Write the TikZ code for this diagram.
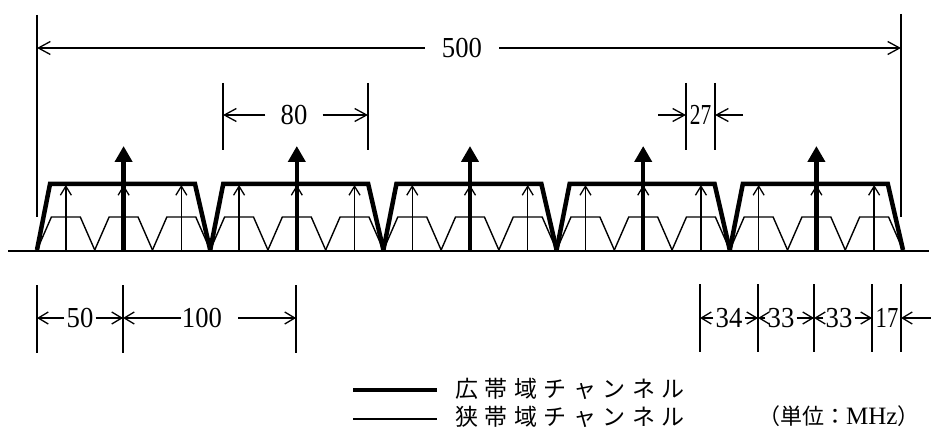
\documentclass[tikz,border=0pt]{standalone}
\usepackage{fontspec}
\setmainfont{Liberation Serif}
\newfontfamily\numfont[FakeStretch=0.92]{Liberation Serif}
\newfontfamily\unitfont{Liberation Serif}
\newfontfamily\cjk{Noto Sans CJK JP}
\usetikzlibrary{arrows.meta}
\begin{document}
\begin{tikzpicture}[x=1pt,y=-1pt,
  wideline/.style={line width=4.5pt},
  thinline/.style={line width=1.4pt},
  extline/.style={line width=1.3pt},
  narrowcarrier/.style={line width=1.3pt,-{Straight Barb[width=11pt,length=9pt]}},
  widecarrier/.style={line width=4.5pt,-{Triangle[width=17pt,length=16pt]}},
  bigdim/.style={line width=1.3pt,-{Straight Barb[width=13pt,length=12pt]}},
  smalldim/.style={line width=1.3pt,-{Straight Barb[width=12pt,length=10pt]}},
  numlabel/.style={font=\numfont\fontsize{29}{31}\selectfont,inner ysep=0pt,inner xsep=2pt},
  cjktext/.style={font=\cjk\fontsize{23}{26}\selectfont,inner sep=0pt,anchor=west},
]
\useasboundingbox (0,0) rectangle (931,430);
\fill[white] (0,0) rectangle (931,430);

% baseline
\coordinate (bl0) at (8,251);
\coordinate (bl1) at (929,251);
\draw[line width=2.5pt] (bl0) -- (bl1);

% channels
\foreach \k in {0,...,4}{
  \pgfmathsetmacro\a{37+173.2*\k}
  \foreach \j in {0,1,2}{
    \pgfmathsetmacro\b{\a+57.733*\j}
    \draw[thinline] (\b,250) -- (\b+14.4,217) -- (\b+43.3,217) -- (\b+57.733,250);
    \draw[narrowcarrier] (\b+28.87,250) -- (\b+28.87,185);
  }
  \draw[wideline] (\a,250) -- (\a+13,184) -- (\a+158,184) -- (\a+173.2,250);
  \draw[widecarrier] (\a+86.6,250) -- (\a+86.6,146);
}

% 500 dimension
\draw[extline] (37,15) -- (37,217);
\draw[extline] (901,14) -- (901,217);
\coordinate (d500L) at (37,48);
\coordinate (d500R) at (901,48);
\node[numlabel,inner xsep=17pt] (l500) at (462,48) {500};
\draw[bigdim] (l500) -- (d500L);
\draw[bigdim] (l500) -- (d500R);

% 80 dimension
\draw[extline] (223,83) -- (223,150);
\draw[extline] (368,83) -- (368,150);
\coordinate (d80L) at (223,115);
\coordinate (d80R) at (368,115);
\node[numlabel,inner xsep=15pt] (l80) at (294,115) {80};
\draw[bigdim] (l80) -- (d80L);
\draw[bigdim] (l80) -- (d80R);

% 27 dimension
\draw[extline] (686,83) -- (686,150);
\draw[extline] (715,83) -- (715,150);
\coordinate (d27L) at (686,115);
\coordinate (d27R) at (715,115);
\coordinate (s27L) at (658,115);
\coordinate (s27R) at (743,115);
\node[numlabel,inner xsep=0pt] (l27) at (700.5,115) {\scalebox{0.8}[1]{27}};
\draw[bigdim] (s27L) -- (d27L);
\draw[bigdim] (s27R) -- (d27R);

% bottom left dimensions
\foreach \x in {37,123,296} \draw[extline] (\x,285) -- (\x,353);
\coordinate (b37) at (37,318);
\coordinate (b123) at (123,318);
\coordinate (b296) at (296,318);
\coordinate (s100) at (238,318);
\node[numlabel] (l50) at (80,318) {50};
\node[numlabel,inner xsep=1pt] (l100) at (202,318) {100};
\draw[smalldim] (l50) -- (b37);
\draw[smalldim] (l50) -- (b123);
\draw[smalldim] (l100) -- (b123);
\draw[smalldim] (s100) -- (b296);

% bottom right dimensions
\foreach \x in {700,758,814,872,901} \draw[extline] (\x,284) -- (\x,352);
\coordinate (b700) at (700,318);
\coordinate (b758) at (758,318);
\coordinate (b814) at (814,318);
\coordinate (b872) at (872,318);
\coordinate (b901) at (901,318);
\coordinate (s17) at (931,318);
\node[numlabel] (l34) at (729,318) {34};
\node[numlabel] (l33a) at (781,318) {33};
\node[numlabel] (l33b) at (839,318) {33};
\node[numlabel,inner xsep=0pt] (l17) at (887,318) {\scalebox{0.85}[1]{17}};
\draw[smalldim] (l34) -- (b700);
\draw[smalldim] (l34) -- (b758);
\draw[smalldim] (l33a) -- (b758);
\draw[smalldim] (l33a) -- (b814);
\draw[smalldim] (l33b) -- (b814);
\draw[smalldim] (l33b) -- (b872);
\draw[smalldim] (s17) -- (b901);

% legend
\coordinate (lgw0) at (353,390);
\coordinate (lgw1) at (437,390);
\coordinate (lgn0) at (353,419);
\coordinate (lgn1) at (437,419);
\draw[line width=4pt] (lgw0) -- (lgw1);
\draw[line width=1.5pt] (lgn0) -- (lgn1);
\node[cjktext] (tw) at (455,389) {広\kern6.5pt 帯\kern6.5pt 域\kern6.5pt チ\kern6.5pt ャ\kern6.5pt ン\kern6.5pt ネ\kern6.5pt ル};
\node[cjktext] (tn) at (455,417) {狭\kern6.5pt 帯\kern6.5pt 域\kern6.5pt チ\kern6.5pt ャ\kern6.5pt ン\kern6.5pt ネ\kern6.5pt ル};
\node[cjktext,font=\cjk\fontsize{22}{24}\selectfont] (unit) at (758,416) {（単位：{\unitfont\fontsize{25}{27}\selectfont MHz}）};
\end{tikzpicture}
\end{document}
